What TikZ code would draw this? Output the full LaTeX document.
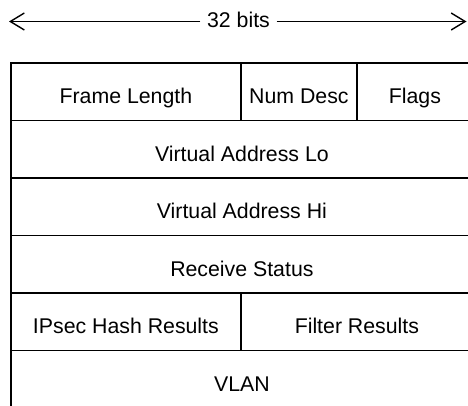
\documentclass[tikz,border=0pt]{standalone}
\usepackage{fontspec}
\setmainfont{Liberation Sans}
\usetikzlibrary{arrows.meta}
\begin{document}
\begin{tikzpicture}[x=1pt,y=1pt,
  lbl/.style={font=\fontsize{21.3}{25}\selectfont},
  cell/.style={lbl, draw, line width=1.8pt, rectangle, anchor=north west,
    minimum height=57.5pt, inner sep=0pt, text height=24.4pt, text depth=0pt},
  dimline/.style={line width=1.3pt, -{Straight Barb[length=14pt,width=17pt,line width=1.4pt]}}]
\clip (0,0) rectangle (468,-405);
% width indicator
\coordinate (lt) at (9,-21.5);
\coordinate (rt) at (466.5,-21.5);
\node[lbl, anchor=base, inner xsep=6.5pt] (bits) at (238.5,-27.7) {32 bits};
\draw[dimline] (bits.west |- lt) -- (lt);
\draw[dimline] (bits.east |- rt) -- (rt);
% row 1
\node[cell, minimum width=230pt] (fl) at (10,-62) {Frame Length};
\node[cell, minimum width=116pt] (nd) at (240,-62) {Num Desc};
\node[cell, minimum width=116pt] (fg) at (356,-62) {Flags};
% rows 2-4
\node[cell, minimum width=462pt] (val) at (10,-119.5) {Virtual Address Lo};
\node[cell, minimum width=462pt] (vah) at (10,-177) {Virtual Address Hi};
\node[cell, minimum width=462pt] (rs) at (10,-234.5) {Receive Status};
% row 5
\node[cell, minimum width=230pt] (ih) at (10,-292) {IPsec Hash Results};
\node[cell, minimum width=232pt] (fr) at (240,-292) {Filter Results};
% row 6
\node[cell, minimum width=462pt] (vl) at (10,-349.5) {VLAN};
\end{tikzpicture}
\end{document}
